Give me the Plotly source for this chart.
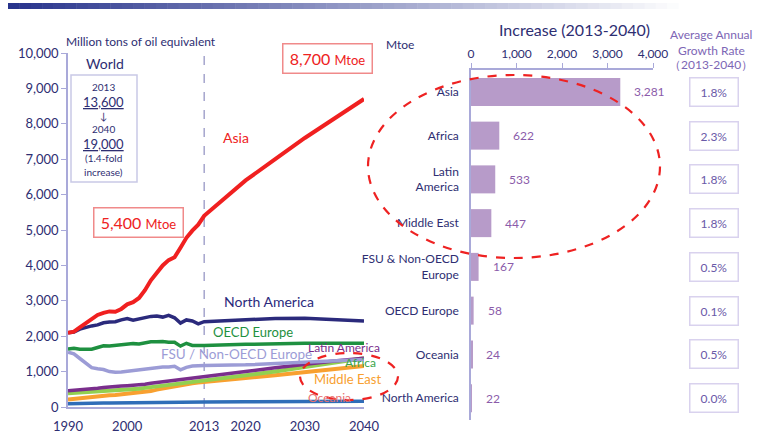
import plotly.graph_objects as go

# ---------------- data ----------------
years = list(range(1990, 2014)) + [2020, 2025, 2030, 2035, 2040]

asia = [2100, 2130, 2250, 2370, 2480, 2600, 2660, 2700, 2690, 2770, 2900, 2960, 3080,
        3300, 3580, 3780, 4000, 4150, 4230, 4500, 4780, 4980, 5150, 5400,
        6400, 7000, 7600, 8150, 8700]
north_america = [2100, 2120, 2200, 2250, 2290, 2320, 2380, 2400, 2410, 2460, 2500, 2450, 2490,
                 2520, 2560, 2570, 2540, 2590, 2520, 2370, 2460, 2430, 2350, 2410,
                 2470, 2500, 2510, 2480, 2430]
oecd_europe = [1640, 1660, 1630, 1620, 1630, 1680, 1730, 1720, 1740, 1740, 1760, 1790, 1780,
               1810, 1840, 1840, 1850, 1830, 1830, 1720, 1800, 1740, 1740, 1740,
               1770, 1790, 1800, 1800, 1800]
fsu_non_oecd = [1550, 1500, 1370, 1250, 1110, 1080, 1060, 1000, 980, 990, 1010, 1020, 1040,
                1080, 1100, 1100, 1130, 1130, 1150, 1050, 1120, 1160, 1170, 1170,
                1190, 1230, 1270, 1310, 1340]
latin_america = [460, 470, 480, 500, 520, 530, 550, 570, 580, 590, 600, 610, 620,
                 640, 670, 690, 710, 740, 760, 760, 790, 810, 830, 850,
                 1000, 1110, 1210, 1300, 1380]
africa = [390, 400, 405, 410, 420, 430, 445, 455, 465, 475, 490, 500, 515,
          540, 560, 580, 600, 620, 650, 660, 690, 710, 730, 760,
          890, 1000, 1130, 1260, 1380]
middle_east = [210, 230, 250, 270, 290, 300, 320, 330, 340, 355, 370, 380, 400,
               420, 450, 490, 520, 560, 600, 620, 650, 670, 690, 710,
               820, 900, 990, 1080, 1160]
oceania = [90, 90, 90, 92, 95, 100, 110, 115, 118, 120, 122, 122, 123,
           124, 125, 128, 130, 132, 135, 136, 137, 138, 139, 140,
           145, 150, 155, 160, 164]

x_tick_years = [1990, 2000, 2013, 2020, 2030, 2040]
y_ticks = list(range(0, 10001, 1000))

bar_regions = ["Asia", "Africa", "Latin<br>America", "Middle East",
               "FSU & Non-OECD<br>Europe", "OECD Europe", "Oceania", "North America"]
bar_increase = [3281, 622, 533, 447, 167, 58, 24, 22]
growth_rates = ["1.8%", "2.3%", "1.8%", "1.8%", "0.5%", "0.1%", "0.5%", "0.0%"]
bar_ticks = [0, 1000, 2000, 3000, 4000]

# ---------------- helpers ----------------
W, H = 765, 433
FONT = "Lato"
NAVY = "#2E2E72"
LAV = "#A9A9D9"


def px(x):
    return x / W


def py(y):
    return 1 - y / H


fig = go.Figure()

series = [
    ("Oceania", oceania, "#2F6DB8", 3.5),
    ("Middle East", middle_east, "#F8A030", 4),
    ("Africa", africa, "#92D050", 4),
    ("Latin America", latin_america, "#7A2E8C", 3.5),
    ("FSU / Non-OECD Europe", fsu_non_oecd, "#9C9CD6", 3.5),
    ("OECD Europe", oecd_europe, "#1E9040", 3.5),
    ("North America", north_america, "#2B2A7C", 3.5),
    ("Asia", asia, "#F02020", 4),
]
for name, vals, col, w in series:
    fig.add_trace(go.Scatter(x=years, y=vals, mode="lines", name=name,
                             line=dict(color=col, width=w), xaxis="x", yaxis="y",
                             showlegend=False, hoverinfo="skip", cliponaxis=False))

fig.add_trace(go.Bar(x=bar_increase, y=bar_regions, orientation="h",
                     marker=dict(color="#B79BC9", line=dict(width=0)),
                     width=0.64, xaxis="x2", yaxis="y2", showlegend=False,
                     hoverinfo="skip"))

annotations = []
shapes = []

# top gradient banner
n = 60
x0, x1 = 8, 690
c0 = (40, 52, 140)
for i in range(n):
    t = i / (n - 1)
    c = tuple(int(round(c0[k] + (255 - c0[k]) * t)) for k in range(3))
    shapes.append(dict(type="rect", xref="paper", yref="paper",
                       x0=px(x0 + (x1 - x0) * i / n), x1=px(x0 + (x1 - x0) * (i + 1) / n + 0.5),
                       y0=py(9), y1=py(3), line=dict(width=0),
                       fillcolor="rgb(%d,%d,%d)" % c, layer="above"))

# 2013 dashed vertical line
shapes.append(dict(type="line", xref="x", yref="y", x0=2013, x1=2013, y0=0, y1=10000,
                   line=dict(color="#8E8EC0", width=1.2, dash="dash"), layer="below"))

# world box
shapes.append(dict(type="rect", xref="paper", yref="paper", x0=px(71), x1=px(137),
                   y0=py(182), y1=py(75), line=dict(color="#C9C9E6", width=1.5)))


def ann(x, y, text, size, color, **kw):
    d = dict(x=px(x), y=py(y), xref="paper", yref="paper", text=text, showarrow=False,
             font=dict(family=FONT, size=size, color=color), xanchor="center", yanchor="middle")
    d.update(kw)
    annotations.append(d)


ann(141, 42, "Million tons of oil equivalent", 12, NAVY)
ann(105, 63, "World", 14, NAVY)
ann(104, 87, "2013", 10, NAVY)
ann(104, 102, "<u>13,600</u>", 13, NAVY)
ann(104, 116, "↓", 10, NAVY)
ann(104, 129, "2040", 10, NAVY)
ann(104, 144, "<u>19,000</u>", 13, NAVY)
ann(104, 158, "(1.4-fold", 10, NAVY)
ann(104, 172, "increase)", 10, NAVY)

# value boxes
for cx, cy, val in [(138, 223, "5,400"), (327, 59, "8,700")]:
    ann(cx, cy, val + " <span style='font-size:13px'>Mtoe</span>", 16, "#EE2222",
        bordercolor="#F08A8A", borderwidth=1.5, borderpad=3, width=82, height=22)

# series labels
ann(236, 137, "Asia", 14, "#EE2222")
ann(269, 301, "North America", 14, "#2B2A7C")
ann(253, 332, "OECD Europe", 13, "#1E9040")
ann(236, 354, "FSU / Non-OECD Europe", 13.5, "#9C9CD6")
ann(344, 347, "Latin America", 12, "#7A2E8C")
ann(360, 362, "Africa", 12, "#3AA548")
ann(347, 379, "Middle East", 13, "#F8A030")
ann(329, 397, "Oceania", 12, "#E87070")

# right panel texts
ann(400, 44, "Mtoe", 12, NAVY)
ann(574, 29, "Increase (2013-2040)", 16, NAVY)
ann(711, 35, "Average Annual", 12, "#7D66B5")
ann(711, 50, "Growth Rate", 12, "#7D66B5")
ann(711, 64, "（2013-2040）", 12, "#7D66B5")

# bar value labels
for reg, v in zip(bar_regions, bar_increase):
    annotations.append(dict(x=v, y=reg, xref="x2", yref="y2", text=f"{v:,}",
                            showarrow=False, xanchor="left", yanchor="middle", xshift=12,
                            font=dict(family=FONT, size=12, color="#8B5BAA")))

# growth rate boxes
for reg, g in zip(bar_regions, growth_rates):
    annotations.append(dict(x=px(713.5), y=reg, xref="paper", yref="y2", text=g,
                            showarrow=False, xanchor="center", yanchor="middle",
                            bordercolor="#D9D2EE", borderwidth=1.5, borderpad=1,
                            width=45, height=25,
                            font=dict(family=FONT, size=12, color="#6A5AA8")))

# red dashed ellipses
shapes.append(dict(type="circle", xref="paper", yref="paper", x0=px(368), x1=px(660),
                   y0=py(258), y1=py(75), line=dict(color="#EE2222", width=2.2, dash="dash"),
                   layer="above"))
shapes.append(dict(type="circle", xref="paper", yref="paper", x0=px(300), x1=px(398),
                   y0=py(400), y1=py(353), line=dict(color="#EE2222", width=2.2, dash="dash"),
                   layer="above"))

fig.update_layout(
    width=W, height=H, margin=dict(l=0, r=0, t=0, b=0),
    paper_bgcolor="white", plot_bgcolor="white",
    font=dict(family=FONT, color=NAVY),
    xaxis=dict(domain=[px(68), px(364)], range=[1990, 2040], anchor="y",
               tickvals=x_tick_years, ticktext=[str(v) for v in x_tick_years],
               showline=True, linecolor=LAV, linewidth=1.5, ticks="",
               showgrid=False, zeroline=False, automargin=False, ticklabelstandoff=7,
               tickfont=dict(family=FONT, size=13, color=NAVY)),
    yaxis=dict(domain=[py(407), py(53)], range=[0, 10000], anchor="x",
               tickvals=y_ticks, ticktext=[f"{v:,}" for v in y_ticks],
               showline=True, linecolor=LAV, linewidth=1.5, ticks="outside",
               ticklen=5, tickcolor=LAV, showgrid=False, zeroline=False, automargin=False,
               tickfont=dict(family=FONT, size=13, color=NAVY)),
    xaxis2=dict(domain=[px(471), px(653)], range=[0, 4000], anchor="y2", side="top",
                tickvals=bar_ticks, ticktext=[f"{v:,}" for v in bar_ticks],
                showline=True, linecolor=LAV, linewidth=1.5, ticks="outside",
                ticklen=5, tickcolor=LAV, showgrid=False, zeroline=False, automargin=False,
                tickfont=dict(family=FONT, size=12, color=NAVY)),
    yaxis2=dict(domain=[py(420), py(70)], anchor="x2", type="category",
                categoryorder="array", categoryarray=bar_regions, range=[7.5, -0.5],
                showline=True, linecolor=LAV, linewidth=1.5, ticks="",
                showgrid=False, zeroline=False, ticklabelstandoff=8, automargin=False,
                tickfont=dict(family=FONT, size=12, color=NAVY)),
    annotations=annotations, shapes=shapes,
)

fig.write_html("out.html", config={"displayModeBar": False},
               post_script="document.body.style.margin='0';document.body.style.overflow='hidden';")
